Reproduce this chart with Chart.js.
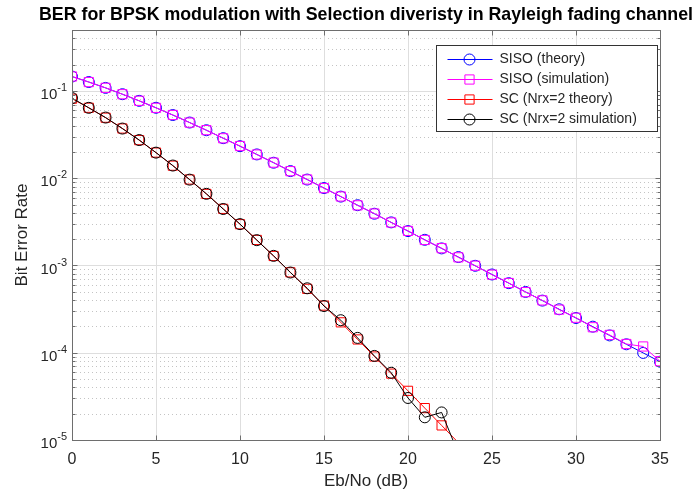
<!DOCTYPE html>
<html>
<head>
<meta charset="utf-8">
<script src="https://cdn.jsdelivr.net/npm/chart.js@4.4.1/dist/chart.umd.min.js"></script>
<style>
  html, body { margin: 0; padding: 0; background: #fff; }
</style>
</head>
<body>
<canvas id="chart" width="697" height="495"></canvas>
<script>
const ebno = [0, 1, 2, 3, 4, 5, 6, 7, 8, 9, 10, 11, 12, 13, 14, 15, 16, 17,
  18, 19, 20, 21, 22, 23, 24, 25, 26, 27, 28, 29, 30, 31, 32, 33, 34, 35]

const sisoTheory = [0.1464, 0.1267, 0.1085, 0.0919, 0.0771, 0.0642, 0.0530, 0.0435, 0.0355, 0.0288,
  0.0233, 0.01875, 0.01506, 0.01208, 0.00966, 0.00772, 0.00616, 0.00491, 0.00392, 0.00312,
  0.00248, 0.00197, 0.00157, 0.00125, 0.000992, 0.000789, 0.000627, 0.000498, 0.000396, 0.000315,
  0.000250, 0.000199, 0.000158, 0.000125, 0.0000995, 0.0000790]

const sisoSim = [0.1466, 0.1265, 0.1087, 0.0918, 0.0772, 0.0641, 0.0531, 0.0434, 0.0356, 0.0287,
  0.0234, 0.01870, 0.01510, 0.01205, 0.00968, 0.00770, 0.00618, 0.00489, 0.00394, 0.00311,
  0.00249, 0.00196, 0.00158, 0.00124, 0.000995, 0.000785, 0.000630, 0.000495, 0.000398, 0.000312,
  0.000252, 0.000196, 0.000160, 0.000126, 0.000118, 0.0000800]

const scTheory = [0.08157, 0.06424, 0.04943, 0.03716, 0.02734, 0.01969, 0.01393, 0.00967, 0.00661, 0.00446,
  0.002973, 0.001963, 0.001285, 0.000835, 0.000540, 0.000347, 0.000223, 0.000142, 0.0000906, 0.0000576,
  0.0000366, 0.0000232, 0.0000147, 0.0000093, 0.00000588, 0.0000037, 0.0000023, 0.0000015, 0.00000094, 0.00000059,
  0.00000037, 0.00000024, 0.00000015, 0.000000094, 0.000000059, 0.0000000375]

// zeros in the simulation are not drawn on a log axis
const scSim = [0.0830, 0.0641, 0.0496, 0.0371, 0.0274, 0.01965, 0.01398, 0.00964, 0.00663, 0.00444,
  0.00298, 0.00195, 0.00129, 0.000831, 0.000548, 0.000343, 0.000236, 0.000148, 0.0000920, 0.0000590,
  0.0000303, 0.0000182, 0.0000207, 0.0000070, null, null, null, null, null, null,
  null, null, null, null, null, null]

const xTicks = [0, 5, 10, 15, 20, 25, 30, 35]
const yExponents = [-5, -4, -3, -2, -1]
const yMin = 1e-5
const yMax = 0.5

const seriesNames = ['SISO (theory)', 'SISO (simulation)', 'SC (Nrx=2 theory)', 'SC (Nrx=2 simulation)']
const seriesColors = ['#0000ff', '#ff00ff', '#ff0000', '#000000']
const seriesMarkers = ['circle', 'rect', 'rect', 'circle']
const seriesValues = [sisoTheory, sisoSim, scTheory, scSim]

const FONT = '"Liberation Sans", Arial, Helvetica, sans-serif'
const TEXT = '#262626'

const toPoints = (values) => ebno.map((x, i) => ({ x, y: values[i] }))

const drawMarker = (ctx, style, cx, cy) => {
  ctx.beginPath()
  if (style === 'circle') {
    ctx.arc(cx, cy, 5.5, 0, Math.PI * 2)
  } else {
    ctx.rect(cx - 4.6, cy - 4.6, 9.2, 9.2)
  }
  ctx.stroke()
}

// matlab style grid, box, inward ticks, labels and legend
const matlabAxes = {
  id: 'matlabAxes',
  beforeDatasetsDraw(chart) {
    const { ctx, chartArea: a, scales: { x, y } } = chart
    ctx.save()
    ctx.lineWidth = 1

    // minor log grid, dotted
    ctx.strokeStyle = '#c4c4c4'
    ctx.setLineDash([1, 3])
    yExponents.forEach(e => {
      for (let k = 2; k <= 9; k++) {
        const v = k * Math.pow(10, e)
        if (v > yMax) continue
        const py = Math.round(y.getPixelForValue(v)) + 0.5
        ctx.beginPath()
        ctx.moveTo(a.left, py)
        ctx.lineTo(a.right, py)
        ctx.stroke()
      }
    })

    // major grid
    ctx.setLineDash([])
    ctx.strokeStyle = '#dedede'
    yExponents.forEach(e => {
      const py = Math.round(y.getPixelForValue(Math.pow(10, e))) + 0.5
      ctx.beginPath()
      ctx.moveTo(a.left, py)
      ctx.lineTo(a.right, py)
      ctx.stroke()
    })
    xTicks.forEach(t => {
      const px = Math.round(x.getPixelForValue(t)) + 0.5
      ctx.beginPath()
      ctx.moveTo(px, a.top)
      ctx.lineTo(px, a.bottom)
      ctx.stroke()
    })
    ctx.restore()
  },
  afterDraw(chart) {
    const { ctx, chartArea: a, scales: { x, y } } = chart
    ctx.save()

    // box
    ctx.strokeStyle = '#6e6e6e'
    ctx.lineWidth = 1
    const L = Math.round(a.left) + 0.5
    const R = Math.round(a.right) + 0.5
    const T = Math.round(a.top) + 0.5
    const B = Math.round(a.bottom) + 0.5
    ctx.strokeRect(L, T, R - L, B - T)

    // inward ticks
    ctx.beginPath()
    xTicks.forEach(t => {
      const px = Math.round(x.getPixelForValue(t)) + 0.5
      ctx.moveTo(px, B); ctx.lineTo(px, B - 5)
      ctx.moveTo(px, T); ctx.lineTo(px, T + 5)
    })
    yExponents.forEach(e => {
      for (let k = 1; k <= 9; k++) {
        const v = k * Math.pow(10, e)
        if (v > yMax) continue
        const len = k === 1 ? 5 : 3
        const py = Math.round(y.getPixelForValue(v)) + 0.5
        ctx.moveTo(L, py); ctx.lineTo(L + len, py)
        ctx.moveTo(R, py); ctx.lineTo(R - len, py)
      }
    })
    ctx.stroke()

    // y tick labels 10^e
    ctx.fillStyle = TEXT
    yExponents.forEach(e => {
      const py = y.getPixelForValue(Math.pow(10, e))
      const exp = '-' + Math.abs(e)
      ctx.font = '11px ' + FONT
      const ew = ctx.measureText(exp).width
      ctx.textAlign = 'left'
      ctx.textBaseline = 'middle'
      const ex = a.left - 5 - ew
      ctx.fillText(exp, ex, py - 3)
      ctx.font = '15px ' + FONT
      ctx.textAlign = 'right'
      ctx.fillText('10', ex, py + 4)
    })

    // titles
    ctx.textAlign = 'center'
    ctx.textBaseline = 'middle'
    ctx.fillStyle = '#000'
    ctx.font = 'bold 17.8px ' + FONT
    ctx.fillText('BER for BPSK modulation with Selection diveristy in Rayleigh fading channel', (a.left + a.right) / 2, 15)
    ctx.fillStyle = TEXT
    ctx.font = '17px ' + FONT
    ctx.fillText('Eb/No (dB)', (a.left + a.right) / 2, 481)
    ctx.save()
    ctx.translate(22, (a.top + a.bottom) / 2)
    ctx.rotate(-Math.PI / 2)
    ctx.fillText('Bit Error Rate', 0, 0)
    ctx.restore()

    // legend
    const lw = 221
    const lh = 86
    const lx = Math.round(a.right - 3 - lw) + 0.5
    const ly = Math.round(a.top + 15) + 0.5
    ctx.fillStyle = '#fff'
    ctx.fillRect(lx, ly, lw, lh)
    ctx.strokeStyle = '#333'
    ctx.lineWidth = 1
    ctx.strokeRect(lx, ly, lw, lh)
    ctx.font = '14px ' + FONT
    ctx.textAlign = 'left'
    seriesNames.forEach((name, i) => {
      const ry = ly + 14 + i * 20
      ctx.strokeStyle = seriesColors[i]
      ctx.beginPath()
      ctx.moveTo(lx + 11, ry)
      ctx.lineTo(lx + 56, ry)
      ctx.stroke()
      drawMarker(ctx, seriesMarkers[i], lx + 33, ry)
      ctx.fillStyle = TEXT
      ctx.fillText(name, lx + 63, ry)
    })
    ctx.restore()
  }
}

// markers whose centre falls below the axis are not drawn (as in matlab)
const markerRadius = (r) => (c) => {
  const v = c.raw && c.raw.y
  return v != null && v < yMin ? 0 : r
}

new Chart(document.getElementById('chart'), {
  type: 'line',
  data: {
    datasets: seriesNames.map((name, i) => ({
      label: name,
      data: toPoints(seriesValues[i]),
      borderColor: seriesColors[i],
      borderWidth: 1,
      pointStyle: seriesMarkers[i],
      pointRadius: markerRadius(seriesMarkers[i] === 'rect' ? 6.5 : 5.5),
      pointBorderWidth: 1,
      pointBorderColor: seriesColors[i],
      pointBackgroundColor: 'rgba(0,0,0,0)',
      fill: false,
      tension: 0,
      spanGaps: false,
      order: seriesNames.length - i
    }))
  },
  options: {
    responsive: false,
    animation: false,
    devicePixelRatio: 1,
    layout: { padding: { left: 0, right: 37, top: 30, bottom: 0 } },
    plugins: {
      legend: { display: false },
      title: { display: false },
      tooltip: { enabled: false }
    },
    scales: {
      x: {
        type: 'linear',
        min: 0,
        max: 35,
        grid: { display: false },
        border: { display: false },
        ticks: {
          stepSize: 5,
          color: TEXT,
          font: { family: FONT, size: 16 },
          padding: 2,
          maxRotation: 0
        },
        afterFit: (scale) => { scale.height = 55 }
      },
      y: {
        type: 'logarithmic',
        min: yMin,
        max: yMax,
        grid: { display: false },
        border: { display: false },
        ticks: { display: false },
        afterFit: (scale) => { scale.width = 72 }
      }
    }
  },
  plugins: [matlabAxes]
})
</script>
</body>
</html>
